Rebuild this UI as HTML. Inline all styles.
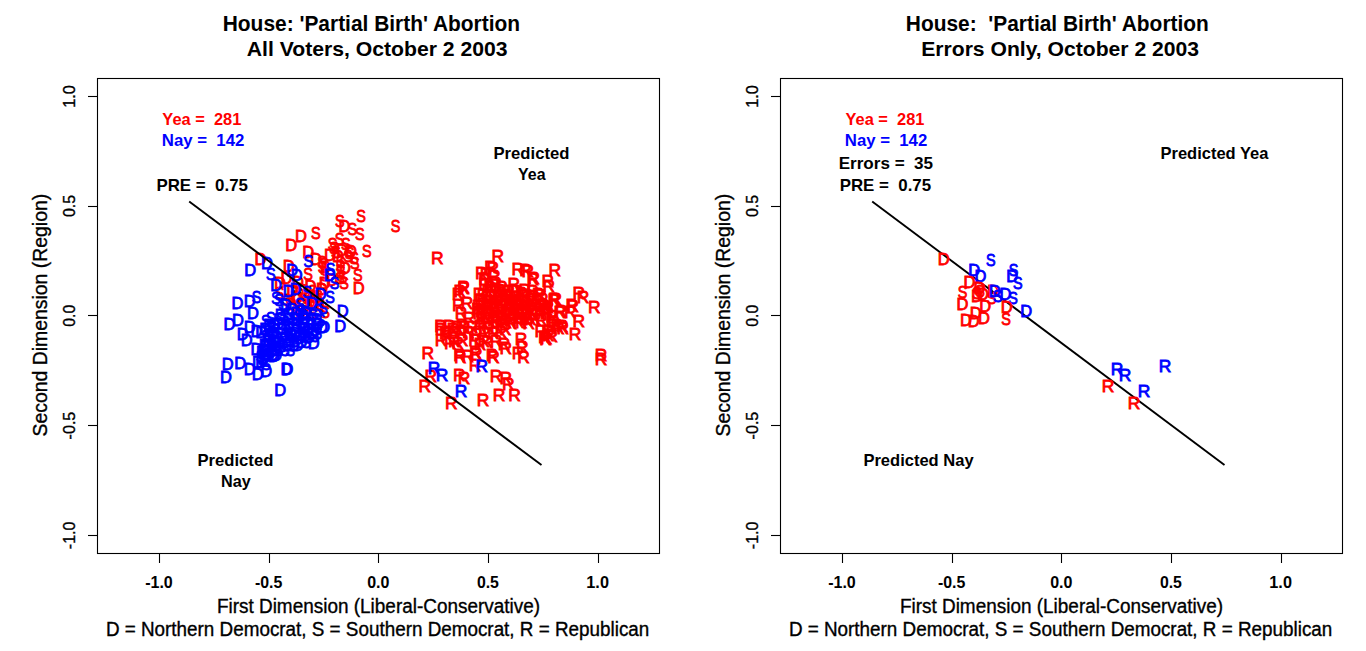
<!DOCTYPE html>
<html><head><meta charset="utf-8"><style>
html,body{margin:0;padding:0;background:#fff;width:1366px;height:651px;overflow:hidden}
svg{display:block}
text{font-family:"Liberation Sans",sans-serif;white-space:pre}
</style></head><body>
<svg width="1366" height="651" viewBox="0 0 1366 651">
<rect width="1366" height="651" fill="#fff"/>
<rect x="97.5" y="78.5" width="562" height="475" fill="none" stroke="#000" stroke-width="1.1"/>
<line x1="88" y1="96.50" x2="97.5" y2="96.50" stroke="#000" stroke-width="1.1"/>
<line x1="88" y1="206.50" x2="97.5" y2="206.50" stroke="#000" stroke-width="1.1"/>
<line x1="88" y1="315.50" x2="97.5" y2="315.50" stroke="#000" stroke-width="1.1"/>
<line x1="88" y1="425.50" x2="97.5" y2="425.50" stroke="#000" stroke-width="1.1"/>
<line x1="88" y1="535.50" x2="97.5" y2="535.50" stroke="#000" stroke-width="1.1"/>
<line x1="159.50" y1="553.5" x2="159.50" y2="563" stroke="#000" stroke-width="1.1"/>
<line x1="269.50" y1="553.5" x2="269.50" y2="563" stroke="#000" stroke-width="1.1"/>
<line x1="378.50" y1="553.5" x2="378.50" y2="563" stroke="#000" stroke-width="1.1"/>
<line x1="488.50" y1="553.5" x2="488.50" y2="563" stroke="#000" stroke-width="1.1"/>
<line x1="598.50" y1="553.5" x2="598.50" y2="563" stroke="#000" stroke-width="1.1"/>
<text x="145.16" y="587.80" font-size="17" font-weight="bold" fill="#000" textLength="27.63" lengthAdjust="spacingAndGlyphs" stroke="#000" stroke-width="0">-1.0</text>
<text x="254.91" y="587.80" font-size="17" font-weight="bold" fill="#000" textLength="27.38" lengthAdjust="spacingAndGlyphs" stroke="#000" stroke-width="0">-0.5</text>
<text x="367.16" y="587.80" font-size="17" font-weight="bold" fill="#000" textLength="22.28" lengthAdjust="spacingAndGlyphs" stroke="#000" stroke-width="0">0.0</text>
<text x="476.92" y="587.80" font-size="17" font-weight="bold" fill="#000" textLength="22.03" lengthAdjust="spacingAndGlyphs" stroke="#000" stroke-width="0">0.5</text>
<text x="586.32" y="587.80" font-size="17" font-weight="bold" fill="#000" textLength="22.63" lengthAdjust="spacingAndGlyphs" stroke="#000" stroke-width="0">1.0</text>
<text x="-549.17" y="0" font-size="17" font-weight="normal" fill="#000" textLength="27.63" lengthAdjust="spacingAndGlyphs" stroke="#000" stroke-width="0.35" transform="translate(75.30,0) rotate(-90)">-1.0</text>
<text x="-439.42" y="0" font-size="17" font-weight="normal" fill="#000" textLength="27.72" lengthAdjust="spacingAndGlyphs" stroke="#000" stroke-width="0.35" transform="translate(75.30,0) rotate(-90)">-0.5</text>
<text x="-326.78" y="0" font-size="17" font-weight="normal" fill="#000" textLength="21.99" lengthAdjust="spacingAndGlyphs" stroke="#000" stroke-width="0.35" transform="translate(75.30,0) rotate(-90)">0.0</text>
<text x="-217.04" y="0" font-size="17" font-weight="normal" fill="#000" textLength="22.07" lengthAdjust="spacingAndGlyphs" stroke="#000" stroke-width="0.35" transform="translate(75.30,0) rotate(-90)">0.5</text>
<text x="-107.87" y="0" font-size="17" font-weight="normal" fill="#000" textLength="22.59" lengthAdjust="spacingAndGlyphs" stroke="#000" stroke-width="0.35" transform="translate(75.30,0) rotate(-90)">1.0</text>
<text x="-436.57" y="0" font-size="20" font-weight="normal" fill="#000" textLength="242.77" lengthAdjust="spacingAndGlyphs" stroke="#000" stroke-width="0.35" transform="translate(47.30,0) rotate(-90)">Second Dimension (Region)</text>
<text x="216.88" y="613.10" font-size="20" font-weight="normal" fill="#000" textLength="323.27" lengthAdjust="spacingAndGlyphs" stroke="#000" stroke-width="0.35">First Dimension (Liberal-Conservative)</text>
<text x="105.89" y="635.60" font-size="19.5" font-weight="normal" fill="#000" textLength="543.42" lengthAdjust="spacingAndGlyphs" stroke="#000" stroke-width="0.35">D = Northern Democrat, S = Southern Democrat, R = Republican</text>
<rect x="780.5" y="78.5" width="562" height="475" fill="none" stroke="#000" stroke-width="1.1"/>
<line x1="771" y1="96.50" x2="780.5" y2="96.50" stroke="#000" stroke-width="1.1"/>
<line x1="771" y1="206.50" x2="780.5" y2="206.50" stroke="#000" stroke-width="1.1"/>
<line x1="771" y1="315.50" x2="780.5" y2="315.50" stroke="#000" stroke-width="1.1"/>
<line x1="771" y1="425.50" x2="780.5" y2="425.50" stroke="#000" stroke-width="1.1"/>
<line x1="771" y1="535.50" x2="780.5" y2="535.50" stroke="#000" stroke-width="1.1"/>
<line x1="842.50" y1="553.5" x2="842.50" y2="563" stroke="#000" stroke-width="1.1"/>
<line x1="952.50" y1="553.5" x2="952.50" y2="563" stroke="#000" stroke-width="1.1"/>
<line x1="1061.50" y1="553.5" x2="1061.50" y2="563" stroke="#000" stroke-width="1.1"/>
<line x1="1171.50" y1="553.5" x2="1171.50" y2="563" stroke="#000" stroke-width="1.1"/>
<line x1="1281.50" y1="553.5" x2="1281.50" y2="563" stroke="#000" stroke-width="1.1"/>
<text x="828.16" y="587.80" font-size="17" font-weight="bold" fill="#000" textLength="27.63" lengthAdjust="spacingAndGlyphs" stroke="#000" stroke-width="0">-1.0</text>
<text x="937.91" y="587.80" font-size="17" font-weight="bold" fill="#000" textLength="27.38" lengthAdjust="spacingAndGlyphs" stroke="#000" stroke-width="0">-0.5</text>
<text x="1050.16" y="587.80" font-size="17" font-weight="bold" fill="#000" textLength="22.28" lengthAdjust="spacingAndGlyphs" stroke="#000" stroke-width="0">0.0</text>
<text x="1159.92" y="587.80" font-size="17" font-weight="bold" fill="#000" textLength="22.03" lengthAdjust="spacingAndGlyphs" stroke="#000" stroke-width="0">0.5</text>
<text x="1269.32" y="587.80" font-size="17" font-weight="bold" fill="#000" textLength="22.63" lengthAdjust="spacingAndGlyphs" stroke="#000" stroke-width="0">1.0</text>
<text x="-549.17" y="0" font-size="17" font-weight="normal" fill="#000" textLength="27.63" lengthAdjust="spacingAndGlyphs" stroke="#000" stroke-width="0.35" transform="translate(758.30,0) rotate(-90)">-1.0</text>
<text x="-439.42" y="0" font-size="17" font-weight="normal" fill="#000" textLength="27.72" lengthAdjust="spacingAndGlyphs" stroke="#000" stroke-width="0.35" transform="translate(758.30,0) rotate(-90)">-0.5</text>
<text x="-326.78" y="0" font-size="17" font-weight="normal" fill="#000" textLength="21.99" lengthAdjust="spacingAndGlyphs" stroke="#000" stroke-width="0.35" transform="translate(758.30,0) rotate(-90)">0.0</text>
<text x="-217.04" y="0" font-size="17" font-weight="normal" fill="#000" textLength="22.07" lengthAdjust="spacingAndGlyphs" stroke="#000" stroke-width="0.35" transform="translate(758.30,0) rotate(-90)">0.5</text>
<text x="-107.87" y="0" font-size="17" font-weight="normal" fill="#000" textLength="22.59" lengthAdjust="spacingAndGlyphs" stroke="#000" stroke-width="0.35" transform="translate(758.30,0) rotate(-90)">1.0</text>
<text x="-436.57" y="0" font-size="20" font-weight="normal" fill="#000" textLength="242.77" lengthAdjust="spacingAndGlyphs" stroke="#000" stroke-width="0.35" transform="translate(730.30,0) rotate(-90)">Second Dimension (Region)</text>
<text x="899.88" y="613.10" font-size="20" font-weight="normal" fill="#000" textLength="323.27" lengthAdjust="spacingAndGlyphs" stroke="#000" stroke-width="0.35">First Dimension (Liberal-Conservative)</text>
<text x="788.89" y="635.60" font-size="19.5" font-weight="normal" fill="#000" textLength="543.42" lengthAdjust="spacingAndGlyphs" stroke="#000" stroke-width="0.35">D = Northern Democrat, S = Southern Democrat, R = Republican</text>
<text x="222.74" y="30.70" font-size="21.6" font-weight="bold" fill="#000" textLength="297.36" lengthAdjust="spacingAndGlyphs" stroke="#000" stroke-width="0">House: 'Partial Birth' Abortion</text>
<text x="246.77" y="55.70" font-size="21" font-weight="bold" fill="#000" textLength="260.87" lengthAdjust="spacingAndGlyphs" stroke="#000" stroke-width="0">All Voters, October 2 2003</text>
<text x="905.84" y="30.70" font-size="21.6" font-weight="bold" fill="#000" textLength="303.01" lengthAdjust="spacingAndGlyphs" stroke="#000" stroke-width="0">House:  'Partial Birth' Abortion</text>
<text x="921.23" y="55.70" font-size="21" font-weight="bold" fill="#000" textLength="277.79" lengthAdjust="spacingAndGlyphs" stroke="#000" stroke-width="0">Errors Only, October 2 2003</text>
<defs>
<text id="gD" x="0" y="6.2" font-size="16" text-anchor="middle" transform="scale(1.03,1)" stroke-width="0.8">D</text>
<text id="gS" x="0" y="6.2" font-size="16" text-anchor="middle" transform="scale(0.9,1)" stroke-width="0.8">S</text>
<text id="gR" x="0" y="6.2" font-size="16" text-anchor="middle" transform="scale(1.09,1)" stroke-width="0.8">R</text>
</defs>
<use href="#gS" x="315.8" y="232.3" fill="#ff0000" stroke="#ff0000"/>
<use href="#gD" x="300.9" y="235.7" fill="#ff0000" stroke="#ff0000"/>
<use href="#gD" x="291.1" y="244.9" fill="#ff0000" stroke="#ff0000"/>
<use href="#gD" x="308.3" y="251.8" fill="#ff0000" stroke="#ff0000"/>
<use href="#gD" x="316.0" y="258.8" fill="#ff0000" stroke="#ff0000"/>
<use href="#gD" x="260.5" y="258.8" fill="#ff0000" stroke="#ff0000"/>
<use href="#gS" x="361.1" y="216.1" fill="#ff0000" stroke="#ff0000"/>
<use href="#gS" x="395.6" y="225.9" fill="#ff0000" stroke="#ff0000"/>
<use href="#gS" x="339.8" y="220.7" fill="#ff0000" stroke="#ff0000"/>
<use href="#gD" x="344.4" y="225.9" fill="#ff0000" stroke="#ff0000"/>
<use href="#gS" x="352.4" y="228.8" fill="#ff0000" stroke="#ff0000"/>
<use href="#gS" x="359.9" y="234.0" fill="#ff0000" stroke="#ff0000"/>
<use href="#gS" x="339.5" y="239.1" fill="#ff0000" stroke="#ff0000"/>
<use href="#gS" x="332.6" y="243.3" fill="#ff0000" stroke="#ff0000"/>
<use href="#gS" x="345.8" y="244.0" fill="#ff0000" stroke="#ff0000"/>
<use href="#gS" x="366.8" y="250.9" fill="#ff0000" stroke="#ff0000"/>
<use href="#gD" x="329.9" y="255.0" fill="#ff0000" stroke="#ff0000"/>
<use href="#gS" x="335.7" y="251.6" fill="#ff0000" stroke="#ff0000"/>
<use href="#gD" x="350.9" y="250.9" fill="#ff0000" stroke="#ff0000"/>
<use href="#gS" x="349.6" y="253.0" fill="#ff0000" stroke="#ff0000"/>
<use href="#gS" x="354.7" y="262.6" fill="#ff0000" stroke="#ff0000"/>
<use href="#gS" x="340.6" y="262.0" fill="#ff0000" stroke="#ff0000"/>
<use href="#gS" x="324.0" y="263.3" fill="#ff0000" stroke="#ff0000"/>
<use href="#gS" x="322.6" y="266.8" fill="#ff0000" stroke="#ff0000"/>
<use href="#gS" x="340.6" y="270.9" fill="#ff0000" stroke="#ff0000"/>
<use href="#gS" x="357.8" y="275.1" fill="#ff0000" stroke="#ff0000"/>
<use href="#gD" x="358.8" y="287.3" fill="#ff0000" stroke="#ff0000"/>
<use href="#gS" x="340.3" y="265.4" fill="#ff0000" stroke="#ff0000"/>
<use href="#gS" x="342.6" y="276.9" fill="#ff0000" stroke="#ff0000"/>
<use href="#gS" x="325.3" y="266.5" fill="#ff0000" stroke="#ff0000"/>
<use href="#gS" x="324.2" y="274.6" fill="#ff0000" stroke="#ff0000"/>
<use href="#gD" x="324.8" y="282.6" fill="#ff0000" stroke="#ff0000"/>
<use href="#gS" x="308.0" y="273.4" fill="#ff0000" stroke="#ff0000"/>
<use href="#gD" x="310.5" y="285.5" fill="#ff0000" stroke="#ff0000"/>
<use href="#gD" x="288.7" y="265.4" fill="#ff0000" stroke="#ff0000"/>
<use href="#gD" x="286.4" y="278.0" fill="#ff0000" stroke="#ff0000"/>
<use href="#gS" x="279.5" y="293.0" fill="#ff0000" stroke="#ff0000"/>
<use href="#gD" x="280.0" y="283.0" fill="#ff0000" stroke="#ff0000"/>
<use href="#gD" x="298.0" y="282.0" fill="#ff0000" stroke="#ff0000"/>
<use href="#gS" x="318.0" y="296.0" fill="#ff0000" stroke="#ff0000"/>
<use href="#gD" x="322.0" y="289.0" fill="#ff0000" stroke="#ff0000"/>
<use href="#gS" x="287.0" y="300.0" fill="#ff0000" stroke="#ff0000"/>
<use href="#gD" x="296.0" y="297.0" fill="#ff0000" stroke="#ff0000"/>
<use href="#gS" x="306.0" y="301.0" fill="#ff0000" stroke="#ff0000"/>
<use href="#gD" x="315.0" y="303.0" fill="#ff0000" stroke="#ff0000"/>
<use href="#gS" x="291.0" y="309.0" fill="#ff0000" stroke="#ff0000"/>
<use href="#gD" x="301.0" y="311.0" fill="#ff0000" stroke="#ff0000"/>
<use href="#gS" x="312.0" y="313.0" fill="#ff0000" stroke="#ff0000"/>
<use href="#gD" x="303.0" y="290.0" fill="#ff0000" stroke="#ff0000"/>
<use href="#gS" x="325.0" y="312.0" fill="#ff0000" stroke="#ff0000"/>
<use href="#gD" x="318.0" y="305.0" fill="#ff0000" stroke="#ff0000"/>
<use href="#gS" x="322.0" y="262.0" fill="#ff0000" stroke="#ff0000"/>
<use href="#gS" x="340.0" y="278.0" fill="#ff0000" stroke="#ff0000"/>
<use href="#gD" x="345.0" y="268.0" fill="#ff0000" stroke="#ff0000"/>
<use href="#gD" x="332.0" y="280.0" fill="#ff0000" stroke="#ff0000"/>
<use href="#gS" x="344.0" y="283.0" fill="#ff0000" stroke="#ff0000"/>
<use href="#gS" x="334.0" y="248.0" fill="#ff0000" stroke="#ff0000"/>
<use href="#gD" x="342.0" y="250.0" fill="#ff0000" stroke="#ff0000"/>
<use href="#gS" x="348.0" y="256.0" fill="#ff0000" stroke="#ff0000"/>
<use href="#gS" x="354.0" y="258.0" fill="#ff0000" stroke="#ff0000"/>
<use href="#gD" x="338.0" y="256.0" fill="#ff0000" stroke="#ff0000"/>
<use href="#gD" x="292.2" y="290.8" fill="#ff0000" stroke="#ff0000"/>
<use href="#gS" x="299.3" y="289.2" fill="#ff0000" stroke="#ff0000"/>
<use href="#gS" x="312.5" y="290.9" fill="#ff0000" stroke="#ff0000"/>
<use href="#gS" x="321.4" y="288.3" fill="#ff0000" stroke="#ff0000"/>
<use href="#gD" x="297.7" y="296.7" fill="#ff0000" stroke="#ff0000"/>
<use href="#gS" x="307.1" y="297.3" fill="#ff0000" stroke="#ff0000"/>
<use href="#gS" x="315.4" y="296.4" fill="#ff0000" stroke="#ff0000"/>
<use href="#gD" x="291.3" y="303.8" fill="#ff0000" stroke="#ff0000"/>
<use href="#gD" x="302.8" y="303.9" fill="#ff0000" stroke="#ff0000"/>
<use href="#gS" x="309.2" y="304.8" fill="#ff0000" stroke="#ff0000"/>
<use href="#gS" x="320.1" y="303.5" fill="#ff0000" stroke="#ff0000"/>
<use href="#gD" x="250.1" y="270.0" fill="#0000ff" stroke="#0000ff"/>
<use href="#gD" x="266.9" y="262.8" fill="#0000ff" stroke="#0000ff"/>
<use href="#gS" x="308.3" y="260.5" fill="#0000ff" stroke="#0000ff"/>
<use href="#gS" x="270.9" y="273.4" fill="#0000ff" stroke="#0000ff"/>
<use href="#gD" x="292.2" y="270.0" fill="#0000ff" stroke="#0000ff"/>
<use href="#gD" x="296.8" y="275.2" fill="#0000ff" stroke="#0000ff"/>
<use href="#gD" x="276.1" y="285.0" fill="#0000ff" stroke="#0000ff"/>
<use href="#gD" x="288.7" y="290.7" fill="#0000ff" stroke="#0000ff"/>
<use href="#gD" x="295.6" y="288.4" fill="#0000ff" stroke="#0000ff"/>
<use href="#gS" x="307.2" y="291.9" fill="#0000ff" stroke="#0000ff"/>
<use href="#gS" x="256.5" y="296.5" fill="#0000ff" stroke="#0000ff"/>
<use href="#gD" x="249.6" y="301.1" fill="#0000ff" stroke="#0000ff"/>
<use href="#gD" x="237.5" y="302.8" fill="#0000ff" stroke="#0000ff"/>
<use href="#gS" x="276.1" y="297.6" fill="#0000ff" stroke="#0000ff"/>
<use href="#gS" x="283.0" y="303.4" fill="#0000ff" stroke="#0000ff"/>
<use href="#gD" x="253.0" y="312.6" fill="#0000ff" stroke="#0000ff"/>
<use href="#gD" x="238.0" y="319.5" fill="#0000ff" stroke="#0000ff"/>
<use href="#gD" x="229.4" y="323.5" fill="#0000ff" stroke="#0000ff"/>
<use href="#gS" x="330.5" y="268.8" fill="#0000ff" stroke="#0000ff"/>
<use href="#gD" x="330.0" y="274.6" fill="#0000ff" stroke="#0000ff"/>
<use href="#gS" x="334.6" y="282.6" fill="#0000ff" stroke="#0000ff"/>
<use href="#gD" x="320.7" y="294.2" fill="#0000ff" stroke="#0000ff"/>
<use href="#gS" x="330.0" y="296.5" fill="#0000ff" stroke="#0000ff"/>
<use href="#gD" x="342.6" y="310.3" fill="#0000ff" stroke="#0000ff"/>
<use href="#gD" x="340.3" y="325.3" fill="#0000ff" stroke="#0000ff"/>
<use href="#gS" x="323.0" y="308.0" fill="#0000ff" stroke="#0000ff"/>
<use href="#gD" x="249.6" y="326.9" fill="#0000ff" stroke="#0000ff"/>
<use href="#gD" x="242.6" y="333.8" fill="#0000ff" stroke="#0000ff"/>
<use href="#gD" x="246.7" y="340.2" fill="#0000ff" stroke="#0000ff"/>
<use href="#gD" x="256.5" y="330.4" fill="#0000ff" stroke="#0000ff"/>
<use href="#gD" x="261.1" y="331.5" fill="#0000ff" stroke="#0000ff"/>
<use href="#gD" x="256.5" y="348.8" fill="#0000ff" stroke="#0000ff"/>
<use href="#gD" x="227.7" y="363.8" fill="#0000ff" stroke="#0000ff"/>
<use href="#gD" x="240.3" y="362.6" fill="#0000ff" stroke="#0000ff"/>
<use href="#gD" x="249.6" y="368.4" fill="#0000ff" stroke="#0000ff"/>
<use href="#gD" x="257.6" y="374.1" fill="#0000ff" stroke="#0000ff"/>
<use href="#gD" x="266.3" y="370.7" fill="#0000ff" stroke="#0000ff"/>
<use href="#gD" x="261.1" y="361.5" fill="#0000ff" stroke="#0000ff"/>
<use href="#gD" x="286.5" y="368.4" fill="#0000ff" stroke="#0000ff"/>
<use href="#gD" x="287.5" y="368.4" fill="#0000ff" stroke="#0000ff"/>
<use href="#gD" x="226.0" y="377.0" fill="#0000ff" stroke="#0000ff"/>
<use href="#gD" x="280.2" y="389.9" fill="#0000ff" stroke="#0000ff"/>
<use href="#gD" x="324.1" y="326.5" fill="#0000ff" stroke="#0000ff"/>
<use href="#gD" x="313.8" y="342.6" fill="#0000ff" stroke="#0000ff"/>
<use href="#gS" x="299.5" y="311.1" fill="#0000ff" stroke="#0000ff"/>
<use href="#gS" x="304.6" y="311.5" fill="#0000ff" stroke="#0000ff"/>
<use href="#gD" x="280.6" y="315.1" fill="#0000ff" stroke="#0000ff"/>
<use href="#gS" x="284.6" y="315.6" fill="#0000ff" stroke="#0000ff"/>
<use href="#gS" x="289.9" y="314.2" fill="#0000ff" stroke="#0000ff"/>
<use href="#gD" x="296.2" y="313.2" fill="#0000ff" stroke="#0000ff"/>
<use href="#gD" x="302.7" y="314.3" fill="#0000ff" stroke="#0000ff"/>
<use href="#gD" x="306.3" y="313.2" fill="#0000ff" stroke="#0000ff"/>
<use href="#gS" x="312.5" y="314.6" fill="#0000ff" stroke="#0000ff"/>
<use href="#gS" x="265.9" y="320.4" fill="#0000ff" stroke="#0000ff"/>
<use href="#gS" x="270.9" y="317.8" fill="#0000ff" stroke="#0000ff"/>
<use href="#gS" x="278.0" y="318.9" fill="#0000ff" stroke="#0000ff"/>
<use href="#gS" x="281.4" y="317.9" fill="#0000ff" stroke="#0000ff"/>
<use href="#gD" x="288.2" y="318.9" fill="#0000ff" stroke="#0000ff"/>
<use href="#gS" x="293.0" y="318.1" fill="#0000ff" stroke="#0000ff"/>
<use href="#gD" x="297.4" y="319.1" fill="#0000ff" stroke="#0000ff"/>
<use href="#gD" x="304.8" y="318.4" fill="#0000ff" stroke="#0000ff"/>
<use href="#gS" x="310.1" y="318.3" fill="#0000ff" stroke="#0000ff"/>
<use href="#gD" x="316.2" y="318.6" fill="#0000ff" stroke="#0000ff"/>
<use href="#gS" x="320.6" y="319.8" fill="#0000ff" stroke="#0000ff"/>
<use href="#gD" x="269.1" y="324.3" fill="#0000ff" stroke="#0000ff"/>
<use href="#gD" x="274.7" y="324.5" fill="#0000ff" stroke="#0000ff"/>
<use href="#gD" x="278.3" y="323.5" fill="#0000ff" stroke="#0000ff"/>
<use href="#gS" x="286.2" y="324.4" fill="#0000ff" stroke="#0000ff"/>
<use href="#gS" x="289.5" y="324.1" fill="#0000ff" stroke="#0000ff"/>
<use href="#gS" x="295.6" y="324.8" fill="#0000ff" stroke="#0000ff"/>
<use href="#gD" x="302.6" y="323.1" fill="#0000ff" stroke="#0000ff"/>
<use href="#gS" x="305.6" y="323.4" fill="#0000ff" stroke="#0000ff"/>
<use href="#gD" x="311.4" y="323.9" fill="#0000ff" stroke="#0000ff"/>
<use href="#gD" x="317.7" y="324.0" fill="#0000ff" stroke="#0000ff"/>
<use href="#gD" x="265.2" y="328.6" fill="#0000ff" stroke="#0000ff"/>
<use href="#gS" x="270.9" y="327.0" fill="#0000ff" stroke="#0000ff"/>
<use href="#gS" x="275.3" y="329.3" fill="#0000ff" stroke="#0000ff"/>
<use href="#gD" x="281.9" y="328.7" fill="#0000ff" stroke="#0000ff"/>
<use href="#gD" x="288.2" y="327.0" fill="#0000ff" stroke="#0000ff"/>
<use href="#gS" x="291.6" y="328.3" fill="#0000ff" stroke="#0000ff"/>
<use href="#gS" x="299.4" y="326.9" fill="#0000ff" stroke="#0000ff"/>
<use href="#gD" x="304.5" y="327.6" fill="#0000ff" stroke="#0000ff"/>
<use href="#gD" x="308.1" y="328.9" fill="#0000ff" stroke="#0000ff"/>
<use href="#gS" x="315.1" y="329.3" fill="#0000ff" stroke="#0000ff"/>
<use href="#gD" x="322.0" y="327.1" fill="#0000ff" stroke="#0000ff"/>
<use href="#gS" x="268.3" y="333.3" fill="#0000ff" stroke="#0000ff"/>
<use href="#gD" x="273.0" y="332.3" fill="#0000ff" stroke="#0000ff"/>
<use href="#gS" x="277.9" y="333.2" fill="#0000ff" stroke="#0000ff"/>
<use href="#gS" x="285.2" y="333.4" fill="#0000ff" stroke="#0000ff"/>
<use href="#gD" x="291.2" y="333.6" fill="#0000ff" stroke="#0000ff"/>
<use href="#gD" x="295.8" y="332.6" fill="#0000ff" stroke="#0000ff"/>
<use href="#gD" x="302.4" y="333.3" fill="#0000ff" stroke="#0000ff"/>
<use href="#gD" x="307.6" y="331.4" fill="#0000ff" stroke="#0000ff"/>
<use href="#gD" x="312.2" y="333.2" fill="#0000ff" stroke="#0000ff"/>
<use href="#gS" x="317.2" y="332.6" fill="#0000ff" stroke="#0000ff"/>
<use href="#gS" x="265.7" y="336.2" fill="#0000ff" stroke="#0000ff"/>
<use href="#gS" x="269.6" y="335.8" fill="#0000ff" stroke="#0000ff"/>
<use href="#gD" x="276.7" y="337.8" fill="#0000ff" stroke="#0000ff"/>
<use href="#gD" x="281.8" y="337.3" fill="#0000ff" stroke="#0000ff"/>
<use href="#gS" x="288.1" y="336.9" fill="#0000ff" stroke="#0000ff"/>
<use href="#gS" x="293.0" y="336.2" fill="#0000ff" stroke="#0000ff"/>
<use href="#gD" x="299.8" y="338.2" fill="#0000ff" stroke="#0000ff"/>
<use href="#gD" x="305.0" y="335.9" fill="#0000ff" stroke="#0000ff"/>
<use href="#gD" x="309.2" y="336.4" fill="#0000ff" stroke="#0000ff"/>
<use href="#gS" x="314.8" y="336.1" fill="#0000ff" stroke="#0000ff"/>
<use href="#gD" x="268.7" y="340.4" fill="#0000ff" stroke="#0000ff"/>
<use href="#gD" x="275.2" y="340.7" fill="#0000ff" stroke="#0000ff"/>
<use href="#gD" x="278.9" y="341.5" fill="#0000ff" stroke="#0000ff"/>
<use href="#gS" x="283.7" y="341.3" fill="#0000ff" stroke="#0000ff"/>
<use href="#gS" x="289.8" y="340.6" fill="#0000ff" stroke="#0000ff"/>
<use href="#gS" x="294.5" y="341.1" fill="#0000ff" stroke="#0000ff"/>
<use href="#gD" x="301.4" y="341.3" fill="#0000ff" stroke="#0000ff"/>
<use href="#gS" x="306.4" y="341.6" fill="#0000ff" stroke="#0000ff"/>
<use href="#gD" x="264.8" y="344.6" fill="#0000ff" stroke="#0000ff"/>
<use href="#gS" x="270.3" y="344.9" fill="#0000ff" stroke="#0000ff"/>
<use href="#gS" x="277.5" y="346.5" fill="#0000ff" stroke="#0000ff"/>
<use href="#gS" x="281.7" y="346.1" fill="#0000ff" stroke="#0000ff"/>
<use href="#gD" x="288.1" y="344.8" fill="#0000ff" stroke="#0000ff"/>
<use href="#gD" x="293.9" y="345.1" fill="#0000ff" stroke="#0000ff"/>
<use href="#gD" x="297.8" y="344.6" fill="#0000ff" stroke="#0000ff"/>
<use href="#gD" x="264.0" y="349.8" fill="#0000ff" stroke="#0000ff"/>
<use href="#gD" x="266.9" y="351.1" fill="#0000ff" stroke="#0000ff"/>
<use href="#gD" x="275.2" y="349.8" fill="#0000ff" stroke="#0000ff"/>
<use href="#gS" x="278.4" y="349.9" fill="#0000ff" stroke="#0000ff"/>
<use href="#gS" x="284.8" y="349.6" fill="#0000ff" stroke="#0000ff"/>
<use href="#gS" x="290.3" y="349.5" fill="#0000ff" stroke="#0000ff"/>
<use href="#gS" x="260.5" y="355.5" fill="#0000ff" stroke="#0000ff"/>
<use href="#gD" x="266.9" y="354.4" fill="#0000ff" stroke="#0000ff"/>
<use href="#gD" x="272.4" y="354.5" fill="#0000ff" stroke="#0000ff"/>
<use href="#gD" x="276.2" y="354.5" fill="#0000ff" stroke="#0000ff"/>
<use href="#gS" x="262.3" y="359.0" fill="#0000ff" stroke="#0000ff"/>
<use href="#gD" x="262.0" y="352.0" fill="#0000ff" stroke="#0000ff"/>
<use href="#gD" x="266.0" y="346.0" fill="#0000ff" stroke="#0000ff"/>
<use href="#gD" x="264.0" y="358.0" fill="#0000ff" stroke="#0000ff"/>
<use href="#gS" x="270.0" y="352.0" fill="#0000ff" stroke="#0000ff"/>
<use href="#gD" x="268.0" y="340.0" fill="#0000ff" stroke="#0000ff"/>
<use href="#gD" x="272.0" y="345.0" fill="#0000ff" stroke="#0000ff"/>
<use href="#gD" x="258.0" y="362.0" fill="#0000ff" stroke="#0000ff"/>
<use href="#gS" x="266.0" y="364.0" fill="#0000ff" stroke="#0000ff"/>
<use href="#gD" x="274.0" y="356.0" fill="#0000ff" stroke="#0000ff"/>
<use href="#gS" x="279.0" y="300.0" fill="#0000ff" stroke="#0000ff"/>
<use href="#gD" x="286.0" y="305.0" fill="#0000ff" stroke="#0000ff"/>
<use href="#gS" x="300.0" y="304.0" fill="#0000ff" stroke="#0000ff"/>
<use href="#gD" x="312.0" y="303.0" fill="#0000ff" stroke="#0000ff"/>
<use href="#gS" x="318.0" y="310.0" fill="#0000ff" stroke="#0000ff"/>
<use href="#gD" x="292.0" y="309.0" fill="#0000ff" stroke="#0000ff"/>
<use href="#gR" x="437.2" y="257.8" fill="#ff0000" stroke="#ff0000"/>
<use href="#gR" x="497.9" y="256.0" fill="#ff0000" stroke="#ff0000"/>
<use href="#gR" x="492.9" y="267.5" fill="#ff0000" stroke="#ff0000"/>
<use href="#gR" x="486.0" y="273.5" fill="#ff0000" stroke="#ff0000"/>
<use href="#gR" x="517.9" y="269.0" fill="#ff0000" stroke="#ff0000"/>
<use href="#gR" x="527.9" y="270.5" fill="#ff0000" stroke="#ff0000"/>
<use href="#gR" x="554.8" y="270.0" fill="#ff0000" stroke="#ff0000"/>
<use href="#gR" x="532.9" y="279.0" fill="#ff0000" stroke="#ff0000"/>
<use href="#gR" x="547.9" y="280.4" fill="#ff0000" stroke="#ff0000"/>
<use href="#gR" x="548.9" y="286.0" fill="#ff0000" stroke="#ff0000"/>
<use href="#gR" x="463.5" y="288.0" fill="#ff0000" stroke="#ff0000"/>
<use href="#gR" x="458.0" y="294.0" fill="#ff0000" stroke="#ff0000"/>
<use href="#gR" x="479.0" y="294.0" fill="#ff0000" stroke="#ff0000"/>
<use href="#gR" x="513.9" y="284.0" fill="#ff0000" stroke="#ff0000"/>
<use href="#gR" x="555.8" y="299.0" fill="#ff0000" stroke="#ff0000"/>
<use href="#gR" x="571.8" y="305.0" fill="#ff0000" stroke="#ff0000"/>
<use href="#gR" x="578.8" y="293.0" fill="#ff0000" stroke="#ff0000"/>
<use href="#gR" x="583.1" y="296.8" fill="#ff0000" stroke="#ff0000"/>
<use href="#gR" x="594.2" y="307.2" fill="#ff0000" stroke="#ff0000"/>
<use href="#gR" x="572.7" y="306.0" fill="#ff0000" stroke="#ff0000"/>
<use href="#gR" x="570.2" y="311.5" fill="#ff0000" stroke="#ff0000"/>
<use href="#gR" x="561.0" y="310.9" fill="#ff0000" stroke="#ff0000"/>
<use href="#gR" x="578.8" y="320.7" fill="#ff0000" stroke="#ff0000"/>
<use href="#gR" x="562.2" y="325.6" fill="#ff0000" stroke="#ff0000"/>
<use href="#gR" x="554.2" y="299.2" fill="#ff0000" stroke="#ff0000"/>
<use href="#gR" x="575.1" y="334.2" fill="#ff0000" stroke="#ff0000"/>
<use href="#gR" x="601.0" y="354.5" fill="#ff0000" stroke="#ff0000"/>
<use href="#gR" x="601.0" y="358.8" fill="#ff0000" stroke="#ff0000"/>
<use href="#gR" x="540.7" y="330.6" fill="#ff0000" stroke="#ff0000"/>
<use href="#gR" x="545.6" y="338.5" fill="#ff0000" stroke="#ff0000"/>
<use href="#gR" x="551.8" y="336.1" fill="#ff0000" stroke="#ff0000"/>
<use href="#gR" x="558.5" y="328.1" fill="#ff0000" stroke="#ff0000"/>
<use href="#gR" x="521.1" y="339.2" fill="#ff0000" stroke="#ff0000"/>
<use href="#gR" x="522.3" y="346.5" fill="#ff0000" stroke="#ff0000"/>
<use href="#gR" x="523.5" y="357.0" fill="#ff0000" stroke="#ff0000"/>
<use href="#gR" x="427.8" y="352.8" fill="#ff0000" stroke="#ff0000"/>
<use href="#gR" x="430.9" y="376.2" fill="#ff0000" stroke="#ff0000"/>
<use href="#gR" x="424.7" y="386.0" fill="#ff0000" stroke="#ff0000"/>
<use href="#gR" x="451.2" y="402.6" fill="#ff0000" stroke="#ff0000"/>
<use href="#gR" x="459.2" y="375.0" fill="#ff0000" stroke="#ff0000"/>
<use href="#gR" x="464.1" y="378.0" fill="#ff0000" stroke="#ff0000"/>
<use href="#gR" x="460.4" y="357.1" fill="#ff0000" stroke="#ff0000"/>
<use href="#gR" x="467.8" y="355.3" fill="#ff0000" stroke="#ff0000"/>
<use href="#gR" x="476.4" y="353.4" fill="#ff0000" stroke="#ff0000"/>
<use href="#gR" x="475.1" y="364.5" fill="#ff0000" stroke="#ff0000"/>
<use href="#gR" x="493.6" y="356.5" fill="#ff0000" stroke="#ff0000"/>
<use href="#gR" x="505.9" y="347.3" fill="#ff0000" stroke="#ff0000"/>
<use href="#gR" x="483.1" y="399.5" fill="#ff0000" stroke="#ff0000"/>
<use href="#gR" x="496.0" y="375.6" fill="#ff0000" stroke="#ff0000"/>
<use href="#gR" x="505.9" y="377.4" fill="#ff0000" stroke="#ff0000"/>
<use href="#gR" x="508.3" y="384.2" fill="#ff0000" stroke="#ff0000"/>
<use href="#gR" x="499.1" y="394.6" fill="#ff0000" stroke="#ff0000"/>
<use href="#gR" x="514.5" y="394.6" fill="#ff0000" stroke="#ff0000"/>
<use href="#gR" x="518.0" y="353.0" fill="#ff0000" stroke="#ff0000"/>
<use href="#gR" x="441.0" y="328.7" fill="#ff0000" stroke="#ff0000"/>
<use href="#gR" x="453.0" y="328.7" fill="#ff0000" stroke="#ff0000"/>
<use href="#gR" x="459.7" y="291.0" fill="#ff0000" stroke="#ff0000"/>
<use href="#gR" x="458.4" y="304.5" fill="#ff0000" stroke="#ff0000"/>
<use href="#gR" x="463.8" y="287.0" fill="#ff0000" stroke="#ff0000"/>
<use href="#gR" x="481.2" y="272.3" fill="#ff0000" stroke="#ff0000"/>
<use href="#gR" x="490.6" y="266.9" fill="#ff0000" stroke="#ff0000"/>
<use href="#gR" x="454.2" y="341.1" fill="#ff0000" stroke="#ff0000"/>
<use href="#gR" x="483.7" y="341.1" fill="#ff0000" stroke="#ff0000"/>
<use href="#gR" x="496.0" y="341.1" fill="#ff0000" stroke="#ff0000"/>
<use href="#gR" x="462.4" y="339.5" fill="#ff0000" stroke="#ff0000"/>
<use href="#gR" x="474.5" y="339.5" fill="#ff0000" stroke="#ff0000"/>
<use href="#gR" x="441.0" y="340.0" fill="#ff0000" stroke="#ff0000"/>
<use href="#gR" x="447.0" y="336.0" fill="#ff0000" stroke="#ff0000"/>
<use href="#gR" x="469.0" y="318.0" fill="#ff0000" stroke="#ff0000"/>
<use href="#gR" x="462.0" y="325.0" fill="#ff0000" stroke="#ff0000"/>
<use href="#gR" x="440.6" y="326.0" fill="#ff0000" stroke="#ff0000"/>
<use href="#gR" x="449.3" y="325.7" fill="#ff0000" stroke="#ff0000"/>
<use href="#gR" x="457.1" y="326.6" fill="#ff0000" stroke="#ff0000"/>
<use href="#gR" x="464.1" y="327.0" fill="#ff0000" stroke="#ff0000"/>
<use href="#gR" x="472.1" y="326.8" fill="#ff0000" stroke="#ff0000"/>
<use href="#gR" x="480.1" y="325.8" fill="#ff0000" stroke="#ff0000"/>
<use href="#gR" x="488.8" y="328.0" fill="#ff0000" stroke="#ff0000"/>
<use href="#gR" x="496.2" y="326.2" fill="#ff0000" stroke="#ff0000"/>
<use href="#gR" x="505.3" y="328.3" fill="#ff0000" stroke="#ff0000"/>
<use href="#gR" x="445.2" y="332.7" fill="#ff0000" stroke="#ff0000"/>
<use href="#gR" x="454.0" y="331.6" fill="#ff0000" stroke="#ff0000"/>
<use href="#gR" x="461.7" y="332.4" fill="#ff0000" stroke="#ff0000"/>
<use href="#gR" x="468.3" y="331.9" fill="#ff0000" stroke="#ff0000"/>
<use href="#gR" x="476.6" y="333.9" fill="#ff0000" stroke="#ff0000"/>
<use href="#gR" x="484.4" y="333.2" fill="#ff0000" stroke="#ff0000"/>
<use href="#gR" x="493.3" y="332.6" fill="#ff0000" stroke="#ff0000"/>
<use href="#gR" x="501.1" y="331.7" fill="#ff0000" stroke="#ff0000"/>
<use href="#gR" x="461.0" y="313.0" fill="#ff0000" stroke="#ff0000"/>
<use href="#gR" x="467.0" y="303.0" fill="#ff0000" stroke="#ff0000"/>
<use href="#gR" x="484.6" y="278.5" fill="#ff0000" stroke="#ff0000"/>
<use href="#gR" x="484.6" y="284.0" fill="#ff0000" stroke="#ff0000"/>
<use href="#gR" x="494.2" y="275.7" fill="#ff0000" stroke="#ff0000"/>
<use href="#gR" x="495.6" y="282.6" fill="#ff0000" stroke="#ff0000"/>
<use href="#gR" x="525.5" y="269.7" fill="#ff0000" stroke="#ff0000"/>
<use href="#gR" x="533.8" y="278.0" fill="#ff0000" stroke="#ff0000"/>
<use href="#gR" x="551.8" y="325.0" fill="#ff0000" stroke="#ff0000"/>
<use href="#gR" x="551.8" y="315.3" fill="#ff0000" stroke="#ff0000"/>
<use href="#gR" x="547.7" y="307.0" fill="#ff0000" stroke="#ff0000"/>
<use href="#gR" x="548.3" y="334.5" fill="#ff0000" stroke="#ff0000"/>
<use href="#gR" x="546.3" y="337.4" fill="#ff0000" stroke="#ff0000"/>
<use href="#gR" x="459.6" y="354.4" fill="#ff0000" stroke="#ff0000"/>
<use href="#gR" x="475.3" y="351.6" fill="#ff0000" stroke="#ff0000"/>
<use href="#gR" x="492.0" y="354.4" fill="#ff0000" stroke="#ff0000"/>
<use href="#gR" x="480.0" y="343.3" fill="#ff0000" stroke="#ff0000"/>
<use href="#gR" x="487.3" y="341.5" fill="#ff0000" stroke="#ff0000"/>
<use href="#gR" x="504.0" y="343.3" fill="#ff0000" stroke="#ff0000"/>
<use href="#gR" x="450.4" y="342.4" fill="#ff0000" stroke="#ff0000"/>
<use href="#gR" x="457.8" y="342.4" fill="#ff0000" stroke="#ff0000"/>
<use href="#gR" x="553.7" y="299.9" fill="#ff0000" stroke="#ff0000"/>
<use href="#gR" x="559.8" y="312.2" fill="#ff0000" stroke="#ff0000"/>
<use href="#gR" x="556.7" y="324.5" fill="#ff0000" stroke="#ff0000"/>
<use href="#gR" x="562.9" y="327.6" fill="#ff0000" stroke="#ff0000"/>
<use href="#gR" x="547.5" y="330.6" fill="#ff0000" stroke="#ff0000"/>
<use href="#gR" x="544.4" y="336.8" fill="#ff0000" stroke="#ff0000"/>
<use href="#gR" x="553.7" y="321.4" fill="#ff0000" stroke="#ff0000"/>
<use href="#gR" x="538.3" y="293.8" fill="#ff0000" stroke="#ff0000"/>
<use href="#gR" x="544.4" y="306.0" fill="#ff0000" stroke="#ff0000"/>
<use href="#gR" x="547.5" y="312.2" fill="#ff0000" stroke="#ff0000"/>
<use href="#gR" x="489.9" y="286.9" fill="#ff0000" stroke="#ff0000"/>
<use href="#gR" x="495.2" y="285.0" fill="#ff0000" stroke="#ff0000"/>
<use href="#gR" x="501.5" y="286.5" fill="#ff0000" stroke="#ff0000"/>
<use href="#gR" x="487.7" y="290.4" fill="#ff0000" stroke="#ff0000"/>
<use href="#gR" x="491.0" y="289.7" fill="#ff0000" stroke="#ff0000"/>
<use href="#gR" x="499.4" y="289.8" fill="#ff0000" stroke="#ff0000"/>
<use href="#gR" x="504.0" y="290.4" fill="#ff0000" stroke="#ff0000"/>
<use href="#gR" x="508.9" y="290.9" fill="#ff0000" stroke="#ff0000"/>
<use href="#gR" x="516.0" y="291.1" fill="#ff0000" stroke="#ff0000"/>
<use href="#gR" x="521.4" y="292.3" fill="#ff0000" stroke="#ff0000"/>
<use href="#gR" x="524.9" y="289.7" fill="#ff0000" stroke="#ff0000"/>
<use href="#gR" x="532.5" y="290.7" fill="#ff0000" stroke="#ff0000"/>
<use href="#gR" x="483.1" y="295.1" fill="#ff0000" stroke="#ff0000"/>
<use href="#gR" x="490.9" y="295.5" fill="#ff0000" stroke="#ff0000"/>
<use href="#gR" x="494.2" y="296.8" fill="#ff0000" stroke="#ff0000"/>
<use href="#gR" x="500.5" y="296.2" fill="#ff0000" stroke="#ff0000"/>
<use href="#gR" x="505.8" y="294.9" fill="#ff0000" stroke="#ff0000"/>
<use href="#gR" x="510.3" y="296.3" fill="#ff0000" stroke="#ff0000"/>
<use href="#gR" x="516.1" y="296.8" fill="#ff0000" stroke="#ff0000"/>
<use href="#gR" x="524.0" y="294.9" fill="#ff0000" stroke="#ff0000"/>
<use href="#gR" x="526.9" y="295.2" fill="#ff0000" stroke="#ff0000"/>
<use href="#gR" x="533.3" y="295.3" fill="#ff0000" stroke="#ff0000"/>
<use href="#gR" x="540.3" y="294.8" fill="#ff0000" stroke="#ff0000"/>
<use href="#gR" x="480.8" y="300.0" fill="#ff0000" stroke="#ff0000"/>
<use href="#gR" x="487.8" y="300.9" fill="#ff0000" stroke="#ff0000"/>
<use href="#gR" x="493.7" y="300.9" fill="#ff0000" stroke="#ff0000"/>
<use href="#gR" x="499.2" y="301.3" fill="#ff0000" stroke="#ff0000"/>
<use href="#gR" x="504.2" y="298.6" fill="#ff0000" stroke="#ff0000"/>
<use href="#gR" x="508.9" y="300.8" fill="#ff0000" stroke="#ff0000"/>
<use href="#gR" x="514.5" y="301.2" fill="#ff0000" stroke="#ff0000"/>
<use href="#gR" x="519.0" y="299.7" fill="#ff0000" stroke="#ff0000"/>
<use href="#gR" x="524.9" y="300.7" fill="#ff0000" stroke="#ff0000"/>
<use href="#gR" x="530.7" y="299.2" fill="#ff0000" stroke="#ff0000"/>
<use href="#gR" x="536.7" y="299.7" fill="#ff0000" stroke="#ff0000"/>
<use href="#gR" x="542.4" y="298.7" fill="#ff0000" stroke="#ff0000"/>
<use href="#gR" x="478.2" y="305.3" fill="#ff0000" stroke="#ff0000"/>
<use href="#gR" x="483.2" y="303.6" fill="#ff0000" stroke="#ff0000"/>
<use href="#gR" x="488.8" y="304.7" fill="#ff0000" stroke="#ff0000"/>
<use href="#gR" x="494.5" y="303.8" fill="#ff0000" stroke="#ff0000"/>
<use href="#gR" x="501.9" y="305.2" fill="#ff0000" stroke="#ff0000"/>
<use href="#gR" x="505.9" y="305.2" fill="#ff0000" stroke="#ff0000"/>
<use href="#gR" x="511.4" y="304.0" fill="#ff0000" stroke="#ff0000"/>
<use href="#gR" x="517.2" y="304.7" fill="#ff0000" stroke="#ff0000"/>
<use href="#gR" x="521.6" y="304.5" fill="#ff0000" stroke="#ff0000"/>
<use href="#gR" x="527.0" y="305.7" fill="#ff0000" stroke="#ff0000"/>
<use href="#gR" x="533.4" y="304.3" fill="#ff0000" stroke="#ff0000"/>
<use href="#gR" x="540.3" y="305.6" fill="#ff0000" stroke="#ff0000"/>
<use href="#gR" x="543.6" y="304.3" fill="#ff0000" stroke="#ff0000"/>
<use href="#gR" x="477.4" y="309.0" fill="#ff0000" stroke="#ff0000"/>
<use href="#gR" x="481.2" y="310.3" fill="#ff0000" stroke="#ff0000"/>
<use href="#gR" x="488.4" y="308.2" fill="#ff0000" stroke="#ff0000"/>
<use href="#gR" x="491.7" y="308.0" fill="#ff0000" stroke="#ff0000"/>
<use href="#gR" x="499.3" y="309.7" fill="#ff0000" stroke="#ff0000"/>
<use href="#gR" x="502.3" y="309.8" fill="#ff0000" stroke="#ff0000"/>
<use href="#gR" x="509.8" y="308.2" fill="#ff0000" stroke="#ff0000"/>
<use href="#gR" x="514.9" y="308.4" fill="#ff0000" stroke="#ff0000"/>
<use href="#gR" x="520.4" y="309.1" fill="#ff0000" stroke="#ff0000"/>
<use href="#gR" x="526.1" y="307.8" fill="#ff0000" stroke="#ff0000"/>
<use href="#gR" x="530.4" y="310.3" fill="#ff0000" stroke="#ff0000"/>
<use href="#gR" x="536.2" y="308.2" fill="#ff0000" stroke="#ff0000"/>
<use href="#gR" x="540.5" y="308.4" fill="#ff0000" stroke="#ff0000"/>
<use href="#gR" x="546.8" y="308.4" fill="#ff0000" stroke="#ff0000"/>
<use href="#gR" x="478.7" y="312.7" fill="#ff0000" stroke="#ff0000"/>
<use href="#gR" x="482.8" y="313.2" fill="#ff0000" stroke="#ff0000"/>
<use href="#gR" x="488.4" y="312.6" fill="#ff0000" stroke="#ff0000"/>
<use href="#gR" x="494.0" y="312.7" fill="#ff0000" stroke="#ff0000"/>
<use href="#gR" x="502.0" y="312.7" fill="#ff0000" stroke="#ff0000"/>
<use href="#gR" x="506.8" y="314.2" fill="#ff0000" stroke="#ff0000"/>
<use href="#gR" x="512.3" y="312.6" fill="#ff0000" stroke="#ff0000"/>
<use href="#gR" x="518.0" y="313.5" fill="#ff0000" stroke="#ff0000"/>
<use href="#gR" x="522.7" y="312.6" fill="#ff0000" stroke="#ff0000"/>
<use href="#gR" x="527.4" y="312.7" fill="#ff0000" stroke="#ff0000"/>
<use href="#gR" x="532.6" y="313.9" fill="#ff0000" stroke="#ff0000"/>
<use href="#gR" x="540.4" y="313.5" fill="#ff0000" stroke="#ff0000"/>
<use href="#gR" x="546.1" y="312.4" fill="#ff0000" stroke="#ff0000"/>
<use href="#gR" x="481.8" y="317.7" fill="#ff0000" stroke="#ff0000"/>
<use href="#gR" x="486.1" y="317.8" fill="#ff0000" stroke="#ff0000"/>
<use href="#gR" x="493.2" y="319.5" fill="#ff0000" stroke="#ff0000"/>
<use href="#gR" x="497.5" y="317.1" fill="#ff0000" stroke="#ff0000"/>
<use href="#gR" x="502.1" y="318.5" fill="#ff0000" stroke="#ff0000"/>
<use href="#gR" x="510.0" y="319.5" fill="#ff0000" stroke="#ff0000"/>
<use href="#gR" x="513.5" y="316.5" fill="#ff0000" stroke="#ff0000"/>
<use href="#gR" x="518.7" y="317.8" fill="#ff0000" stroke="#ff0000"/>
<use href="#gR" x="525.7" y="318.8" fill="#ff0000" stroke="#ff0000"/>
<use href="#gR" x="530.6" y="319.0" fill="#ff0000" stroke="#ff0000"/>
<use href="#gR" x="535.3" y="318.6" fill="#ff0000" stroke="#ff0000"/>
<use href="#gR" x="541.6" y="319.3" fill="#ff0000" stroke="#ff0000"/>
<use href="#gR" x="483.5" y="322.9" fill="#ff0000" stroke="#ff0000"/>
<use href="#gR" x="488.4" y="321.1" fill="#ff0000" stroke="#ff0000"/>
<use href="#gR" x="496.2" y="321.2" fill="#ff0000" stroke="#ff0000"/>
<use href="#gR" x="501.5" y="323.7" fill="#ff0000" stroke="#ff0000"/>
<use href="#gR" x="505.8" y="322.0" fill="#ff0000" stroke="#ff0000"/>
<use href="#gR" x="511.0" y="323.1" fill="#ff0000" stroke="#ff0000"/>
<use href="#gR" x="518.5" y="321.9" fill="#ff0000" stroke="#ff0000"/>
<use href="#gR" x="521.3" y="321.7" fill="#ff0000" stroke="#ff0000"/>
<use href="#gR" x="528.9" y="322.4" fill="#ff0000" stroke="#ff0000"/>
<use href="#gR" x="434.0" y="368.2" fill="#0000ff" stroke="#0000ff"/>
<use href="#gR" x="442.0" y="375.0" fill="#0000ff" stroke="#0000ff"/>
<use href="#gR" x="481.9" y="365.7" fill="#0000ff" stroke="#0000ff"/>
<use href="#gR" x="461.0" y="391.0" fill="#0000ff" stroke="#0000ff"/>
<line x1="189.2" y1="201.5" x2="541.5" y2="465" stroke="#000" stroke-width="1.9"/>
<line x1="872.2" y1="201.5" x2="1224.5" y2="465" stroke="#000" stroke-width="1.9"/>
<use href="#gD" x="943.8" y="258.8" fill="#ff0000" stroke="#ff0000"/>
<use href="#gS" x="990.8" y="260.2" fill="#0000ff" stroke="#0000ff"/>
<use href="#gD" x="974.2" y="269.9" fill="#0000ff" stroke="#0000ff"/>
<use href="#gD" x="980.5" y="275.4" fill="#0000ff" stroke="#0000ff"/>
<use href="#gS" x="1013.6" y="269.9" fill="#0000ff" stroke="#0000ff"/>
<use href="#gD" x="1012.3" y="275.4" fill="#0000ff" stroke="#0000ff"/>
<use href="#gS" x="1017.8" y="283.0" fill="#0000ff" stroke="#0000ff"/>
<use href="#gD" x="969.4" y="281.6" fill="#ff0000" stroke="#ff0000"/>
<use href="#gS" x="962.5" y="292.0" fill="#ff0000" stroke="#ff0000"/>
<use href="#gD" x="979.5" y="287.5" fill="#ff0000" stroke="#ff0000"/>
<use href="#gS" x="976.7" y="293.0" fill="#ff0000" stroke="#ff0000"/>
<use href="#gD" x="983.0" y="294.0" fill="#ff0000" stroke="#ff0000"/>
<use href="#gS" x="980.0" y="291.0" fill="#ff0000" stroke="#ff0000"/>
<use href="#gD" x="977.0" y="296.0" fill="#ff0000" stroke="#ff0000"/>
<use href="#gD" x="993.3" y="291.2" fill="#ff0000" stroke="#ff0000"/>
<use href="#gS" x="991.5" y="297.6" fill="#ff0000" stroke="#ff0000"/>
<use href="#gD" x="995.0" y="290.6" fill="#0000ff" stroke="#0000ff"/>
<use href="#gS" x="997.7" y="295.5" fill="#0000ff" stroke="#0000ff"/>
<use href="#gD" x="1005.4" y="293.4" fill="#0000ff" stroke="#0000ff"/>
<use href="#gS" x="1013.0" y="297.5" fill="#0000ff" stroke="#0000ff"/>
<use href="#gD" x="962.5" y="303.8" fill="#ff0000" stroke="#ff0000"/>
<use href="#gD" x="985.3" y="305.8" fill="#ff0000" stroke="#ff0000"/>
<use href="#gD" x="1006.7" y="307.2" fill="#ff0000" stroke="#ff0000"/>
<use href="#gD" x="1026.1" y="310.7" fill="#0000ff" stroke="#0000ff"/>
<use href="#gD" x="966.0" y="319.7" fill="#ff0000" stroke="#ff0000"/>
<use href="#gD" x="973.6" y="320.4" fill="#ff0000" stroke="#ff0000"/>
<use href="#gD" x="975.6" y="312.7" fill="#ff0000" stroke="#ff0000"/>
<use href="#gD" x="983.9" y="317.6" fill="#ff0000" stroke="#ff0000"/>
<use href="#gS" x="1006.0" y="319.0" fill="#ff0000" stroke="#ff0000"/>
<use href="#gR" x="1117.0" y="369.0" fill="#0000ff" stroke="#0000ff"/>
<use href="#gR" x="1125.0" y="375.0" fill="#0000ff" stroke="#0000ff"/>
<use href="#gR" x="1165.0" y="366.0" fill="#0000ff" stroke="#0000ff"/>
<use href="#gR" x="1108.0" y="386.0" fill="#ff0000" stroke="#ff0000"/>
<use href="#gR" x="1144.0" y="391.0" fill="#0000ff" stroke="#0000ff"/>
<use href="#gR" x="1134.0" y="403.0" fill="#ff0000" stroke="#ff0000"/>
<text x="162.37" y="124.80" font-size="17" font-weight="bold" fill="#ff0000" textLength="78.94" lengthAdjust="spacingAndGlyphs" stroke="#ff0000" stroke-width="0">Yea =  281</text>
<text x="161.81" y="145.70" font-size="17" font-weight="bold" fill="#0000ff" textLength="82.57" lengthAdjust="spacingAndGlyphs" stroke="#0000ff" stroke-width="0">Nay =  142</text>
<text x="156.40" y="190.90" font-size="17" font-weight="bold" fill="#000" textLength="91.52" lengthAdjust="spacingAndGlyphs" stroke="#000" stroke-width="0">PRE =  0.75</text>
<text x="493.52" y="158.80" font-size="17" font-weight="bold" fill="#000" textLength="75.90" lengthAdjust="spacingAndGlyphs" stroke="#000" stroke-width="0">Predicted</text>
<text x="518.08" y="179.90" font-size="17" font-weight="bold" fill="#000" textLength="27.45" lengthAdjust="spacingAndGlyphs" stroke="#000" stroke-width="0">Yea</text>
<text x="197.52" y="465.70" font-size="17" font-weight="bold" fill="#000" textLength="75.80" lengthAdjust="spacingAndGlyphs" stroke="#000" stroke-width="0">Predicted</text>
<text x="221.05" y="486.90" font-size="17" font-weight="bold" fill="#000" textLength="29.73" lengthAdjust="spacingAndGlyphs" stroke="#000" stroke-width="0">Nay</text>
<text x="845.57" y="124.70" font-size="17" font-weight="bold" fill="#ff0000" textLength="78.84" lengthAdjust="spacingAndGlyphs" stroke="#ff0000" stroke-width="0">Yea =  281</text>
<text x="844.81" y="145.90" font-size="17" font-weight="bold" fill="#0000ff" textLength="82.47" lengthAdjust="spacingAndGlyphs" stroke="#0000ff" stroke-width="0">Nay =  142</text>
<text x="838.69" y="168.80" font-size="17" font-weight="bold" fill="#000" textLength="94.36" lengthAdjust="spacingAndGlyphs" stroke="#000" stroke-width="0">Errors =  35</text>
<text x="839.70" y="190.70" font-size="17" font-weight="bold" fill="#000" textLength="91.42" lengthAdjust="spacingAndGlyphs" stroke="#000" stroke-width="0">PRE =  0.75</text>
<text x="1160.53" y="158.60" font-size="17" font-weight="bold" fill="#000" textLength="107.83" lengthAdjust="spacingAndGlyphs" stroke="#000" stroke-width="0">Predicted Yea</text>
<text x="863.43" y="465.70" font-size="17" font-weight="bold" fill="#000" textLength="110.15" lengthAdjust="spacingAndGlyphs" stroke="#000" stroke-width="0">Predicted Nay</text>
</svg></body></html>
